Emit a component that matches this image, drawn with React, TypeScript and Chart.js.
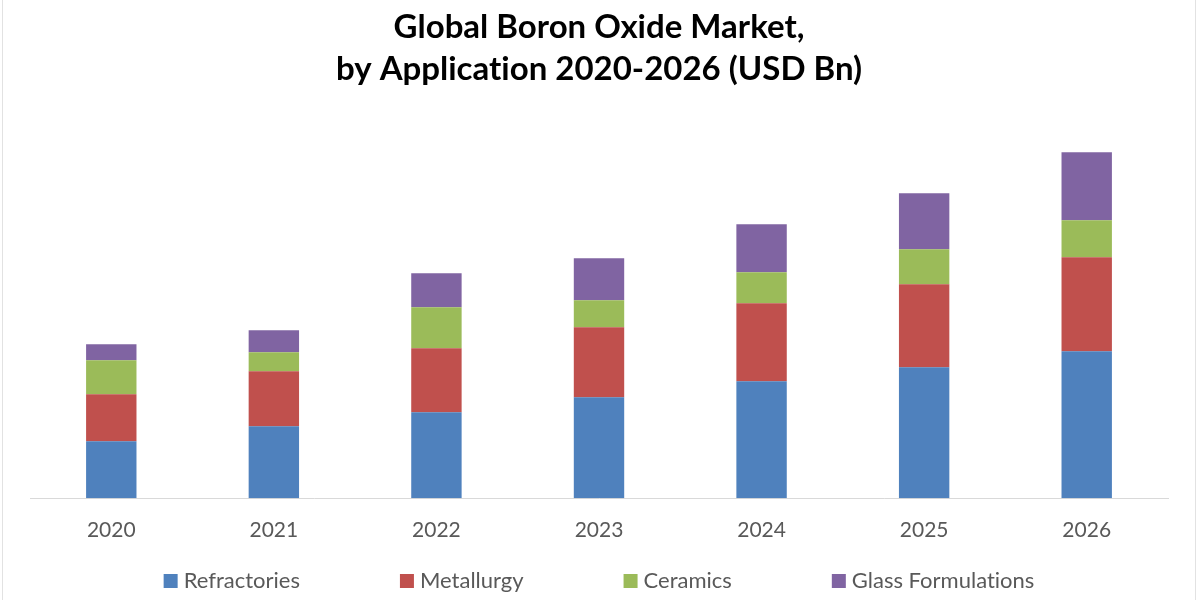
import React, { useEffect, useRef } from "react";
import { Chart, registerables } from "chart.js";

Chart.register(...registerables);

const titleLines = ["Global Boron Oxide Market,", "by Application 2020-2026 (USD Bn)"];
const years = ["2020", "2021", "2022", "2023", "2024", "2025", "2026"];
const refractories = [0.57, 0.72, 0.86, 1.01, 1.17, 1.31, 1.47];
const metallurgy = [0.47, 0.55, 0.64, 0.70, 0.78, 0.83, 0.94];
const ceramics = [0.34, 0.19, 0.41, 0.27, 0.31, 0.35, 0.37];
const glassFormulations = [0.16, 0.22, 0.34, 0.42, 0.48, 0.56, 0.68];
const seriesNames = ["Refractories", "Metallurgy", "Ceramics", "Glass Formulations"];
const seriesColors = ["#4F81BD", "#C0504D", "#9BBB59", "#8064A2"];
const yMax = 4;

const FONT = "Lato, 'Open Sans', sans-serif";

const noLigatures = {
  id: "noLigatures",
  beforeDraw(chart: any) {
    try {
      (chart.ctx as any).textRendering = "optimizeSpeed";
    } catch (e) {
      /* ignore */
    }
  },
};

const customLegend = {
  id: "customLegend",
  afterDraw(chart: any) {
    const ctx = chart.ctx as CanvasRenderingContext2D;
    const items = chart.data.datasets.map((d: any) => ({ text: d.label, color: d.backgroundColor }));
    const box = 14;
    const gapBoxText = 6;
    const gapItems = 100;
    ctx.save();
    ctx.font = `22px ${FONT}`;
    const widths = items.map((it: any) => box + gapBoxText + ctx.measureText(it.text).width);
    const total = widths.reduce((a: number, b: number) => a + b, 0) + gapItems * (items.length - 1);
    const center = (chart.chartArea.left + chart.chartArea.right) / 2;
    let x = center - total / 2;
    const yc = 581;
    items.forEach((it: any, i: number) => {
      ctx.fillStyle = it.color;
      ctx.fillRect(x, yc - box / 2, box, box);
      ctx.fillStyle = "#595959";
      ctx.textBaseline = "middle";
      ctx.textAlign = "left";
      ctx.fillText(it.text, x + box + gapBoxText, yc);
      x += widths[i] + gapItems;
    });
    ctx.restore();
  },
};

export default function App() {
  const canvasRef = useRef<HTMLCanvasElement | null>(null);

  useEffect(() => {
    if (!canvasRef.current) return;
    const series = [refractories, metallurgy, ceramics, glassFormulations];
    const chart = new Chart(canvasRef.current, {
      type: "bar",
      data: {
        labels: years,
        datasets: series.map((values, i) => ({
          label: seriesNames[i],
          data: values,
          backgroundColor: seriesColors[i],
          borderWidth: 0,
          categoryPercentage: 1,
          barPercentage: 0.31,
        })),
      },
      options: {
        animation: false,
        responsive: true,
        maintainAspectRatio: false,
        layout: { padding: { left: 30, right: 32, top: 0, bottom: 61.7 } },
        plugins: {
          legend: { display: false },
          tooltip: { enabled: false },
          title: {
            display: true,
            text: titleLines,
            color: "#000000",
            font: { family: FONT, size: 33, weight: "bold", lineHeight: 1.273 },
            padding: { top: 6.5, bottom: 7.8 },
          },
        },
        scales: {
          x: {
            stacked: true,
            grid: { display: false, drawTicks: false },
            border: { display: true, color: "#d9d9d9", width: 1 },
            ticks: {
              color: "#595959",
              font: { family: FONT, size: 21 },
              padding: 19,
            },
            afterFit: (scale: any) => {
              scale.height = 40;
            },
          },
          y: {
            stacked: true,
            display: false,
            min: 0,
            max: yMax,
          },
        },
      },
      plugins: [noLigatures, customLegend],
    });
    return () => chart.destroy();
  }, []);

  return (
    <div style={{ position: "fixed", left: 0, top: 0, width: 1200, height: 600, background: "#fff" }}>
      <div
        style={{
          position: "absolute",
          left: 2,
          top: -3,
          width: 1194,
          height: 610,
          border: "1px solid #e2e2e2",
          boxSizing: "border-box",
          pointerEvents: "none",
        }}
      />
      <canvas ref={canvasRef} />
    </div>
  );
}
